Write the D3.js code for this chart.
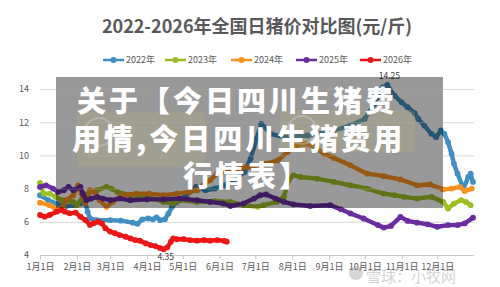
<!DOCTYPE html>
<html>
<head>
<meta charset="utf-8">
<script src="https://cdn.jsdelivr.net/npm/d3@7"></script>
<style>
body { margin: 0; background: #fff; }
svg { display: block; font-family: "Noto Sans CJK SC", "Noto Sans", sans-serif; }
</style>
</head>
<body>
<div id="chart-area"></div>
<script>
/*
*    2022-2026 national daily hog price comparison (元/斤)
*/

// ---- data ----
var years = ["2022年", "2023年", "2024年", "2025年", "2026年"];
var yTicks = [4, 6, 8, 10, 12, 14];

var s2022 = [["01-01",7.6],["01-08",7.3],["01-15",7.1],["01-22",6.9],["01-29",7.0],["02-04",7.1],
    ["02-08",7.2],["02-10",6.6],["02-12",6.2],["02-18",6.1],["03-01",6.1],["03-10",6.07],["03-20",5.95],
    ["03-24",5.88],["03-28",6.15],["04-02",6.2],["04-06",6.15],["04-09",6.27],["04-12",6.1],["04-16",6.15],
    ["04-19",6.5],["04-22",6.9],["04-26",7.2],["05-04",7.6],["05-12",8.1],["05-20",7.9],["05-28",8.0],
    ["06-05",8.2],["06-15",8.6],["06-22",9.0],["06-27",9.8],["07-02",11.0],["07-06",11.9],["07-14",11.3],
    ["07-25",11.1],["08-14",11.2],["09-05",11.5],["09-19",11.8],["10-01",12.2],["10-09",13.1],["10-16",14.1],
    ["10-20",14.25],["10-26",13.6],["11-01",13.2],["11-06",12.9],["11-12",12.55],["11-15",12.2],["11-20",11.8],
    ["11-26",11.3],["11-30",11.1],["12-04",11.5],["12-07",11.3],["12-10",10.8],["12-13",10.1],["12-15",9.5],
    ["12-18",8.9],["12-23",8.0],["12-27",8.7],["12-29",8.9],["12-31",8.4]];

var s2023 = [["01-01",8.35],["01-04",7.7],["01-09",7.7],["01-14",7.5],["01-20",7.3],["01-29",7.2],["02-01",7.0],
    ["02-06",7.5],["02-12",7.8],["02-18",7.9],["02-26",8.1],["03-02",8.0],["03-07",7.8],["03-18",7.6],
    ["04-01",7.5],["04-15",7.2],["04-23",7.1],["04-29",7.3],["05-13",7.2],["05-28",7.25],["06-10",7.2],
    ["06-21",7.0],["07-03",6.9],["07-08",7.0],["07-19",7.2],["07-25",7.5],["07-29",8.5],["08-02",8.8],
    ["08-08",8.7],["08-22",8.6],["09-05",8.4],["09-19",8.2],["10-03",8.0],["10-17",7.7],["10-26",7.6],
    ["11-03",7.5],["11-14",7.4],["11-26",7.5],["12-06",7.2],["12-10",6.8],["12-15",7.1],["12-21",7.3],
    ["12-25",7.2],["12-29",7.0]];

var s2024 = [["01-01",7.15],["01-09",7.0],["01-14",6.8],["01-16",6.7],["01-20",6.9],["01-23",7.3],["01-29",7.6],
    ["02-02",8.2],["02-05",7.7],["02-08",7.1],["02-12",7.9],["02-16",7.8],["02-20",7.3],["02-26",6.9],
    ["03-03",7.2],["03-11",7.6],["03-23",7.7],["04-03",7.7],["04-15",7.6],["04-26",7.7],["05-07",7.8],
    ["05-13",7.9],["05-18",8.2],["05-24",8.5],["05-30",8.9],["06-10",9.1],["06-25",9.3],["07-10",9.5],
    ["07-20",9.7],["07-28",10.2],["08-05",10.6],["08-12",10.7],["08-20",10.5],["08-28",10.1],["09-05",9.85],
    ["09-19",9.4],["10-03",8.9],["10-17",8.75],["10-31",8.55],["11-14",8.2],["11-25",8.25],["12-06",7.95],
    ["12-13",8.0],["12-20",8.1],["12-24",7.85],["12-30",8.0]];

var s2025 = [["01-01",8.1],["01-06",8.2],["01-12",8.0],["01-16",7.8],["01-21",7.9],["01-25",8.1],["01-29",7.9],
    ["02-04",8.1],["02-06",7.7],["02-09",7.3],["02-13",7.4],["02-18",7.5],["02-23",7.4],["03-01",7.3],
    ["03-09",7.4],["03-18",7.3],["04-01",7.35],["04-15",7.35],["04-29",7.4],["05-13",7.3],["05-24",7.2],
    ["06-04",7.1],["06-10",6.95],["06-21",7.1],["06-30",7.4],["07-05",7.6],["07-10",7.65],["07-18",7.4],
    ["07-25",7.2],["08-02",7.05],["08-16",6.95],["09-02",7.0],["09-11",6.75],["09-19",6.5],["09-30",6.2],
    ["10-12",5.8],["10-17",5.65],["10-23",5.75],["10-31",6.3],["11-06",6.05],["11-14",5.95],["11-23",5.85],
    ["12-01",5.7],["12-10",5.8],["12-18",5.8],["12-24",5.9],["12-31",6.25]];

var s2026 = [["01-01",6.41],["01-05",6.31],["01-09",6.41],["01-15",6.61],["01-19",6.71],["01-22",6.61],
    ["01-26",6.51],["01-31",6.55],["02-04",6.31],["02-08",6.11],["02-12",5.81],["02-15",5.91],["02-19",6.01],
    ["02-22",5.91],["02-25",5.61],["03-01",5.41],["03-05",5.31],["03-09",5.2],["03-14",5.1],["03-18",5.0],
    ["03-22",4.9],["03-26",4.86],["03-31",4.7],["04-04",4.6],["04-08",4.54],["04-12",4.42],["04-15",4.35],
    ["04-18",4.46],["04-21",4.8],["04-23",5.0],["04-26",4.95],["05-02",4.96],["05-07",4.9],["05-13",4.86],
    ["05-19",4.9],["05-24",4.86],["05-30",4.9],["06-05",4.85],["06-07",4.8]];

// labelled points: [series index, date]
var labelled = [[0, "10-20"], [4, "04-15"]];

var allSeries = [s2022, s2023, s2024, s2025, s2026];
var colors = ["#3f8fc4", "#9fbe24", "#f7931e", "#6c2ca0", "#ee1515"];

// ---- layout ----
var W = 500, H = 287;
var margin = { left: 40, right: 27, top: 89, bottom: 32 };
var width = W - margin.left - margin.right,
    height = H - margin.top - margin.bottom;

var svg = d3.select("#chart-area").append("svg")
    .attr("width", W)
    .attr("height", H);

var parseDay = d3.timeParse("%Y-%m-%d");
function day(md) { return parseDay("2021-" + md); }

var x = d3.scaleTime()
    .domain([day("01-01"), day("12-31")])
    .range([0, width]);
var y = d3.scaleLinear()
    .domain([4, 14])
    .range([height, 0]);

// Title
svg.append("text")
    .attr("x", 257)
    .attr("y", 33)
    .attr("text-anchor", "middle")
    .attr("font-size", "18px")
    .attr("font-weight", "bold")
    .attr("fill", "#595959")
    .text("2022-2026年全国日猪价对比图(元/斤)");

// Legend
var legendX = [103, 165, 231, 296, 360];
var legend = svg.append("g").attr("transform", "translate(0,60)");
years.forEach(function(name, i) {
    var item = legend.append("g").attr("transform", "translate(" + legendX[i] + ",0)");
    item.append("line")
        .attr("x1", 0).attr("x2", 21)
        .attr("stroke", colors[i])
        .attr("stroke-width", 2.5);
    item.append("circle")
        .attr("cx", 10.5).attr("r", 3)
        .attr("fill", colors[i]);
    item.append("text")
        .attr("x", 23).attr("y", 3.3)
        .attr("font-size", "9px")
        .attr("fill", "#595959")
        .text(name);
});

var g = svg.append("g")
    .attr("transform", "translate(" + margin.left + "," + margin.top + ")");

// Gridlines
g.selectAll(".grid")
    .data(yTicks)
    .enter().append("line")
    .attr("class", "grid")
    .attr("x1", 0).attr("x2", width + 1)
    .attr("y1", function(d) { return y(d) + 0.5; })
    .attr("y2", function(d) { return y(d) + 0.5; })
    .attr("stroke", function(d) { return d === 4 ? "#c8c8c8" : "#dadada"; })
    .attr("stroke-width", 1);

// Y axis labels
var yAxisCall = d3.axisLeft(y)
    .tickValues(yTicks)
    .tickSize(0)
    .tickPadding(11);
var yAxis = g.append("g").call(yAxisCall);
yAxis.select(".domain").remove();
yAxis.selectAll("text")
    .attr("font-size", "9px")
    .attr("font-family", "\"Noto Sans CJK SC\", sans-serif")
    .attr("fill", "#595959");

// X axis
var xAxisCall = d3.axisBottom(x)
    .ticks(d3.timeMonth.every(1))
    .tickSize(4)
    .tickPadding(4)
    .tickFormat(function(d) { return (d.getMonth() + 1) + "月1日"; });
var xAxis = g.append("g")
    .attr("transform", "translate(0," + (height + 0.5) + ")")
    .call(xAxisCall);
xAxis.select(".domain").remove();
xAxis.selectAll("line").attr("stroke", "#c8c8c8");
xAxis.selectAll("text")
    .attr("font-size", "9px")
    .attr("font-family", "\"Noto Sans CJK SC\", sans-serif")
    .attr("fill", "#595959");

// Series
var line = d3.line()
    .x(function(d) { return x(day(d[0])); })
    .y(function(d) { return y(d[1]); })
    .curve(d3.curveLinear);

allSeries.forEach(function(data, i) {
    var s = g.append("g").attr("class", "series");
    s.append("path")
        .attr("fill", "none")
        .attr("stroke", colors[i])
        .attr("stroke-width", 4.4)
        .attr("stroke-linejoin", "round")
        .attr("stroke-linecap", "round")
        .attr("d", line(data));
    s.selectAll("circle")
        .data(data)
        .enter().append("circle")
        .attr("cx", function(d) { return x(day(d[0])); })
        .attr("cy", function(d) { return y(d[1]); })
        .attr("r", 2.9)
        .attr("fill", colors[i]);
});

// Data labels (max / min)
labelled.forEach(function(p, k) {
    var pt = allSeries[p[0]].find(function(d) { return d[0] === p[1]; });
    g.append("text")
        .attr("x", x(day(pt[0])) + 2)
        .attr("y", y(pt[1]) + (k === 0 ? -6 : 11))
        .attr("text-anchor", "middle")
        .attr("font-size", "8.5px")
        .attr("fill", "#404040")
        .text(pt[1]);
});

// ---- page overlay (darkened banner with headline) ----
var banner = svg.append("g");
banner.append("rect")
    .attr("x", 56).attr("y", 77)
    .attr("width", 387).attr("height", 131)
    .attr("fill", "rgba(0,0,0,0.4)");

// faint watermark panels inside the banner
[[77, 112, 128, 55], [280, 110, 135, 42]].forEach(function(r) {
    banner.append("rect")
        .attr("x", r[0]).attr("y", r[1])
        .attr("width", r[2]).attr("height", r[3])
        .attr("rx", 4)
        .attr("fill", "rgba(190,180,110,0.22)");
    banner.append("circle")
        .attr("cx", r[0] + 22).attr("cy", r[1] + 20)
        .attr("r", 14)
        .attr("fill", "none")
        .attr("stroke", "rgba(220,220,220,0.35)")
        .attr("stroke-width", 2);
});

// grid shows lighter through the banner
banner.selectAll(".bgrid")
    .data(yTicks.filter(function(d) { return y(d) + margin.top > 77 && y(d) + margin.top < 208; }))
    .enter().append("line")
    .attr("x1", 56).attr("x2", 443)
    .attr("y1", function(d) { return y(d) + margin.top + 0.5; })
    .attr("y2", function(d) { return y(d) + margin.top + 0.5; })
    .attr("stroke", "rgba(255,255,255,0.22)");

var headline = [
    { text: "关于【今日四川生猪费", x: 77, y: 112 },
    { text: "用情,今日四川生猪费用", x: 72, y: 150 },
    { text: "行情表】", x: 183, y: 187 }
];
banner.selectAll(".headline")
    .data(headline)
    .enter().append("text")
    .attr("class", "headline")
    .attr("x", function(d) { return d.x; })
    .attr("y", function(d) { return d.y; })
    .attr("font-size", "29px")
    .attr("font-weight", "900")
    .attr("letter-spacing", "3px")
    .attr("fill", "#ffffff")
    .text(function(d) { return d.text; });

// bottom-right source watermark (sits over the axis labels, as in the picture)
svg.append("circle")
    .attr("cx", 356).attr("cy", 273)
    .attr("r", 7)
    .attr("fill", "rgba(120,120,120,0.3)");
svg.append("text")
    .attr("x", 366).attr("y", 282)
    .attr("font-size", "15px")
    .attr("fill", "rgba(140,140,140,0.4)")
    .text("雪球：小牧网");
</script>
</body>
</html>
